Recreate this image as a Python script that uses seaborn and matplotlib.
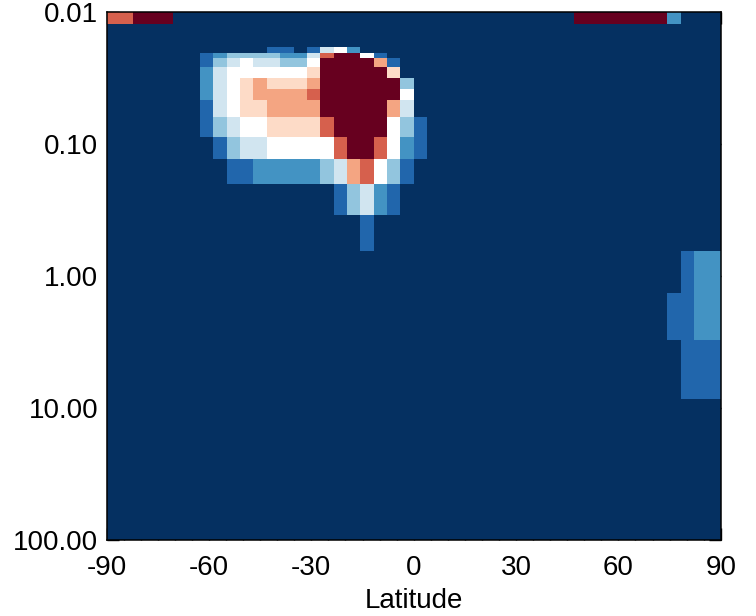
# Zonal-mean latitude / pressure cross section
import numpy as np
import matplotlib
matplotlib.use('Agg')
import matplotlib.pyplot as plt
import seaborn as sns
from matplotlib.colors import BoundaryNorm, ListedColormap
from matplotlib.ticker import FixedLocator, MultipleLocator, NullLocator, FormatStrFormatter

sns.set_theme(style='ticks')
plt.rcParams['font.family'] = ['Liberation Sans', 'DejaVu Sans']
plt.rcParams['axes.unicode_minus'] = False

# grid: 46 latitude bands, pressure rows (top -> bottom)
lat_edges = np.linspace(-90, 90, 47)
pres_edges = [0.01, 0.0123, 0.0184, 0.0205, 0.0223, 0.0261, 0.0316, 0.0383,
              0.0464, 0.0625, 0.0885, 0.130, 0.201, 0.345, 0.647, 1.35,
              3.05, 8.55, 100.0]

# class index per cell (0 = lowest ... A = highest), 46 columns per row
grid_rows = [
    "88AAA00000" "0000000000" "0000000000" "00000AAAAA" "AA2000",
    "0000000000" "0000000000" "0000000000" "0000000000" "000000",
    "0000000000" "0011014520" "0000000000" "0000000000" "000000",
    "0000000123" "3332248AA5" "1000000000" "0000000000" "000000",
    "0000000134" "544335AAAA" "7100000000" "0000000000" "000000",
    "0000000245" "555556AAAA" "A600000000" "0000000000" "000000",
    "0000000245" "676667AAAA" "AA30000000" "0000000000" "000000",
    "0000000245" "677778AAAA" "AA50000000" "0000000000" "000000",
    "0000000145" "667777AAAA" "A740000000" "0000000000" "000000",
    "0000000134" "5566668AAA" "A531000000" "0000000000" "000000",
    "0000000013" "44555558AA" "8521000000" "0000000000" "000000",
    "0000000001" "1222223478" "5310000000" "0000000000" "000000",
    "0000000000" "0000000134" "2100000000" "0000000000" "000000",
    "0000000000" "0000000001" "0000000000" "0000000000" "000000",
    "0000000000" "0000000000" "0000000000" "0000000000" "000122",
    "0000000000" "0000000000" "0000000000" "0000000000" "001122",
    "0000000000" "0000000000" "0000000000" "0000000000" "000111",
    "0000000000" "0000000000" "0000000000" "0000000000" "000000",
]

level_colors = ['#053061', '#2166ac', '#4393c3', '#92c5de', '#d1e5f0', '#ffffff',
                '#fddbc7', '#f4a582', '#d6604d', '#b2182b', '#67001f']

Z = np.array([[int(c, 16) for c in row] for row in grid_rows])

cmap = ListedColormap(sns.color_palette(level_colors))
norm = BoundaryNorm(np.arange(-0.5, len(level_colors) + 0.5, 1), cmap.N)

fig, ax = plt.subplots(figsize=(7.56, 6.16), dpi=100)
fig.subplots_adjust(left=0.141, right=0.9534, bottom=0.1234, top=0.9805)

ax.pcolormesh(lat_edges, pres_edges, Z, cmap=cmap, norm=norm)

ax.set_yscale('log')
ax.set_ylim(100, 0.01)
ax.set_xlim(-90, 90)

ax.xaxis.set_major_locator(MultipleLocator(30))
ax.xaxis.set_minor_locator(MultipleLocator(5))
ax.yaxis.set_major_locator(FixedLocator([0.01, 0.1, 1, 10, 100]))
ax.yaxis.set_minor_locator(NullLocator())
ax.yaxis.set_major_formatter(FormatStrFormatter('%.2f'))

ax.tick_params(which='both', direction='in', top=True, right=True,
               colors='black', labelsize=20, width=1.0)
ax.tick_params(axis='y', pad=6)
ax.tick_params(axis='x', pad=11)
ax.tick_params(which='major', length=8.5)
ax.tick_params(which='minor', length=3.5)

for s in ax.spines.values():
    s.set_color('black')
    s.set_linewidth(1.1)

ax.set_xlabel('Latitude', fontsize=20, labelpad=5, color='black')

fig.savefig('out.png', dpi=100)
